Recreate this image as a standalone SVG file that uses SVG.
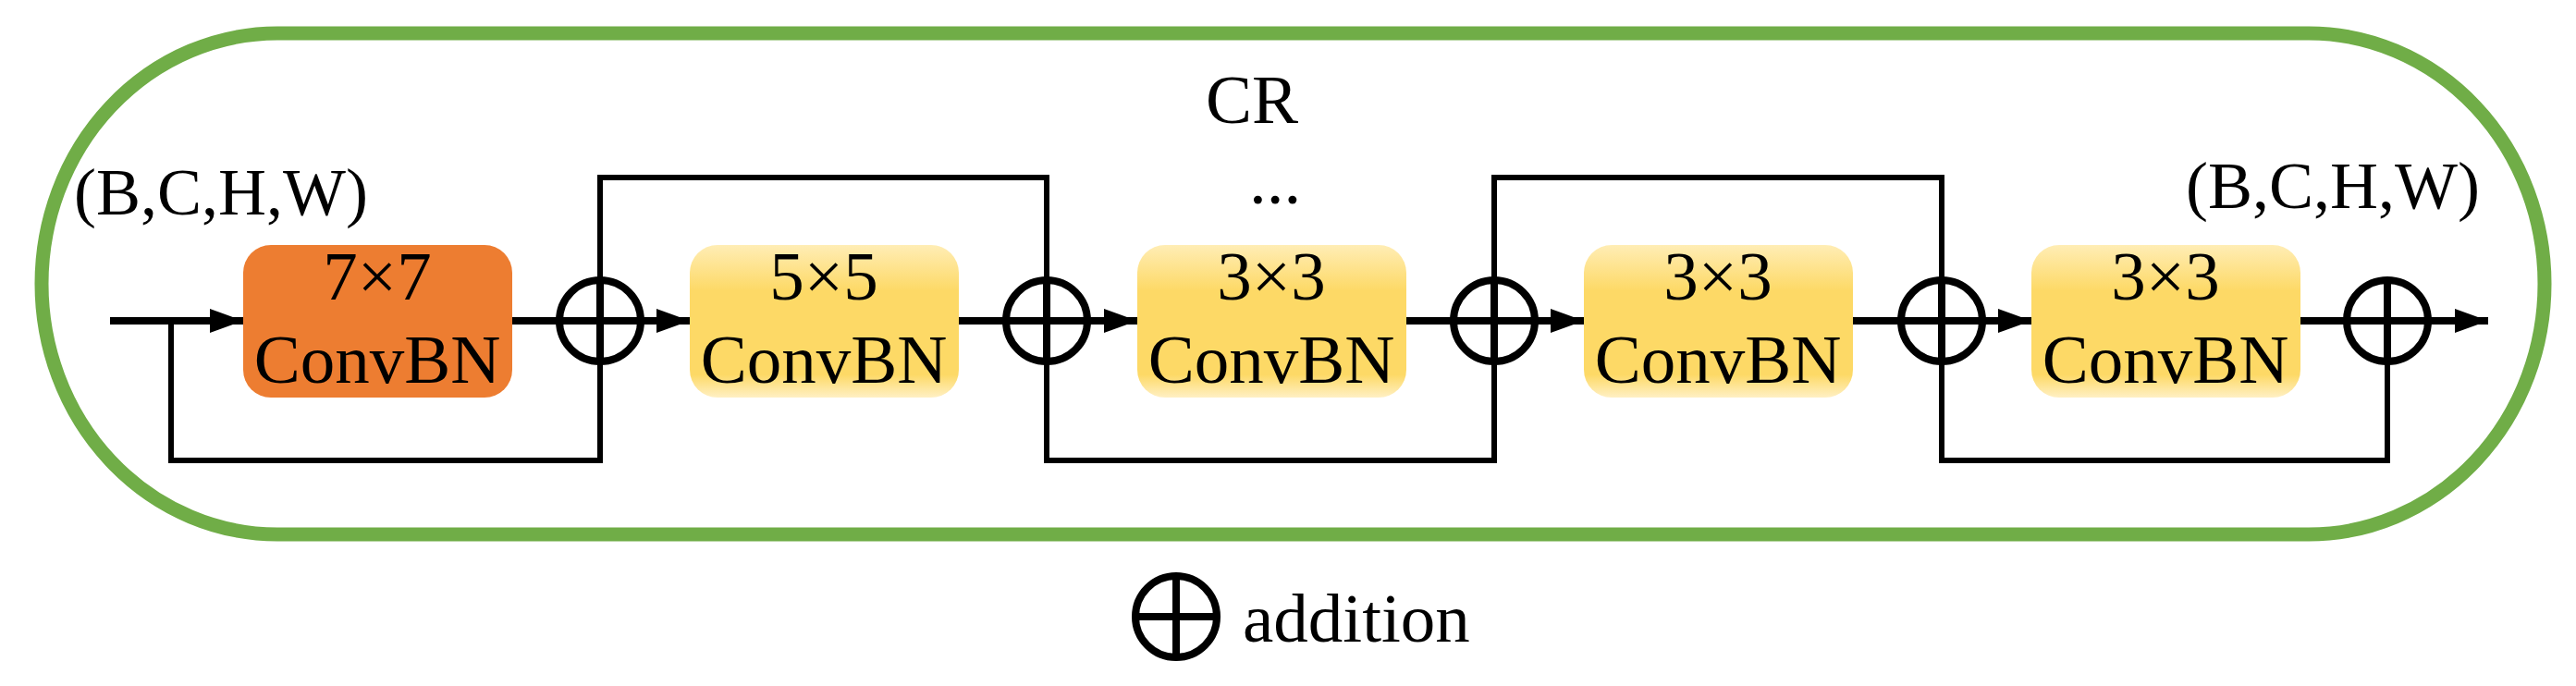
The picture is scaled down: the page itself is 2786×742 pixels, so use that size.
<svg xmlns="http://www.w3.org/2000/svg" width="2786" height="742" viewBox="0 0 2786 742">
<style>
text{font-family:"Liberation Serif","Times New Roman",serif;fill:#000}
.t{font-size:75px;text-anchor:middle}
.main{stroke:#000;stroke-width:8;fill:none}
.thin{stroke:#000;stroke-width:6;fill:none}
.add{stroke:#000;stroke-width:8;fill:none}
</style>
<defs>
<linearGradient id="yg" x1="0" y1="0" x2="0" y2="1">
<stop offset="0" stop-color="#FFEDB5"/>
<stop offset="0.3" stop-color="#FDD966"/>
<stop offset="0.85" stop-color="#FDD966"/>
<stop offset="1" stop-color="#FFF0C4"/>
</linearGradient>
<marker id="ah" markerWidth="36" markerHeight="26" refX="36" refY="13" orient="auto" markerUnits="userSpaceOnUse">
<path d="M0,0 L36,13 L0,26 Z" fill="#000"/>
</marker>
<g id="plus"><circle r="44" class="add"/><line x1="-44" y1="0" x2="44" y2="0" class="add"/><line x1="0" y1="-44" x2="0" y2="44" class="add"/></g>
</defs>
<rect x="45" y="36" width="2707" height="542" rx="255" ry="271" fill="none" stroke="#70AD47" stroke-width="15"/>
<text x="1354" y="133" class="t">CR</text>
<text x="1379" y="220" class="t">...</text>
<text x="80" y="232" style="font-size:72px">(B,C,H,W)</text>
<text x="2364" y="225" style="font-size:72px">(B,C,H,W)</text>
<g id="connectors">
<line x1="119" y1="347" x2="263" y2="347" class="main" marker-end="url(#ah)"/>
<line x1="554" y1="347" x2="746" y2="347" class="main" marker-end="url(#ah)"/>
<line x1="1037" y1="347" x2="1230" y2="347" class="main" marker-end="url(#ah)"/>
<line x1="1521" y1="347" x2="1713" y2="347" class="main" marker-end="url(#ah)"/>
<line x1="2004" y1="347" x2="2197" y2="347" class="main" marker-end="url(#ah)"/>
<line x1="2488" y1="347" x2="2691" y2="347" class="main" marker-end="url(#ah)"/>
<polyline points="185,347 185,498 649,498 649,391" class="thin"/>
<polyline points="649,303 649,192 1132,192 1132,303" class="thin"/>
<polyline points="1132,391 1132,498 1616,498 1616,391" class="thin"/>
<polyline points="1616,303 1616,192 2100,192 2100,303" class="thin"/>
<polyline points="2100,391 2100,498 2582,498 2582,391" class="thin"/>
</g>
<g id="n1"><rect x="263" y="265" width="291" height="165" rx="30" fill="#ED7D31"/><text x="408" y="324" class="t">7×7</text><text x="408" y="414" class="t">ConvBN</text></g>
<g id="n2"><rect x="746" y="265" width="291" height="165" rx="30" fill="url(#yg)"/><text x="891" y="324" class="t">5×5</text><text x="891" y="414" class="t">ConvBN</text></g>
<g id="n3"><rect x="1230" y="265" width="291" height="165" rx="30" fill="url(#yg)"/><text x="1375" y="324" class="t">3×3</text><text x="1375" y="414" class="t">ConvBN</text></g>
<g id="n4"><rect x="1713" y="265" width="291" height="165" rx="30" fill="url(#yg)"/><text x="1858" y="324" class="t">3×3</text><text x="1858" y="414" class="t">ConvBN</text></g>
<g id="n5"><rect x="2197" y="265" width="291" height="165" rx="30" fill="url(#yg)"/><text x="2342" y="324" class="t">3×3</text><text x="2342" y="414" class="t">ConvBN</text></g>
<g id="a1"><use href="#plus" x="649" y="347"/></g>
<g id="a2"><use href="#plus" x="1132" y="347"/></g>
<g id="a3"><use href="#plus" x="1616" y="347"/></g>
<g id="a4"><use href="#plus" x="2100" y="347"/></g>
<g id="a5"><use href="#plus" x="2582" y="347"/></g>
<g id="legend"><use href="#plus" x="1272" y="667"/><text x="1344" y="694" style="font-size:75px">addition</text></g>
</svg>
